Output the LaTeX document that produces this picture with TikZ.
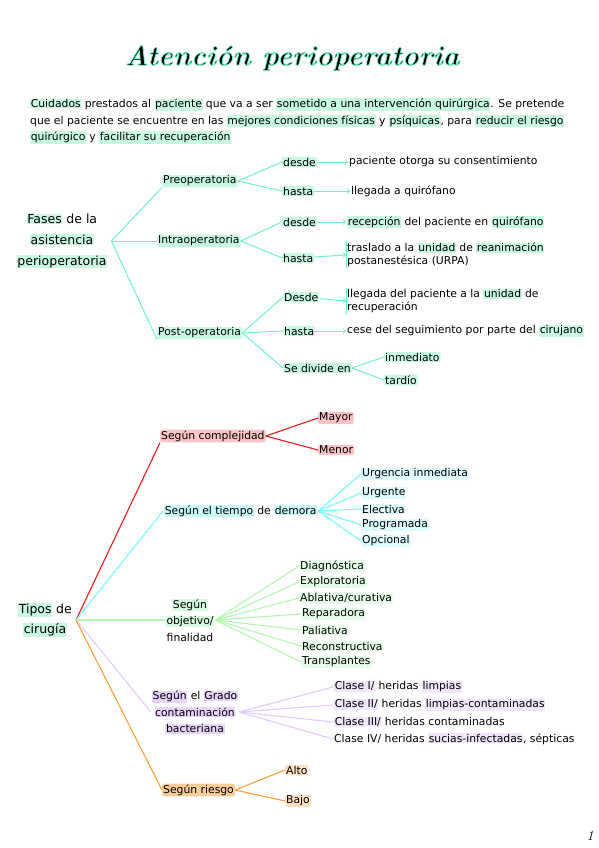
\documentclass[tikz,border=0pt]{standalone}
\usepackage{fontspec}
\setmainfont{DejaVu Sans}
\newfontfamily\titlefont{Latin Modern Roman}
\usetikzlibrary{positioning,arrows,calc}

\definecolor{mintline}{RGB}{110,242,196}
\definecolor{mintbg}{RGB}{200,248,226}
\definecolor{redline}{RGB}{222,28,28}
\definecolor{pinkbg}{RGB}{250,196,196}
\definecolor{cyanline}{RGB}{120,250,250}
\definecolor{cyanbg}{RGB}{200,250,250}
\definecolor{greenline}{RGB}{178,246,178}
\definecolor{greenbg}{RGB}{214,250,222}
\definecolor{lavline}{RGB}{226,202,250}
\definecolor{lavbg}{RGB}{232,212,250}
\definecolor{orangeline}{RGB}{245,162,60}
\definecolor{orangebg}{RGB}{250,204,152}
\newcommand{\mk}[2][mintbg]{{\setlength{\fboxsep}{0.6pt}\colorbox{#1}{#2}}}
\newcommand{\glowtext}[1]{\special{pdf:literal direct 2 Tr 0.7 w 0.431 0.949 0.769 RG}#1\special{pdf:literal direct 0 Tr 0.4 w 0 0 0 RG}}

\begin{document}
\begin{tikzpicture}[x=1pt, y=-1pt,
  txt/.style={font=\fontsize{10.8}{13}\selectfont, inner sep=1pt, anchor=west},
  root/.style={font=\fontsize{12.5}{21}\selectfont, align=center, inner sep=1pt},
  hl/.style={fill=#1, rounded corners=2pt},
  mline/.style={draw=mintline, line width=1pt},
  redl/.style={draw=redline, line width=1.1pt},
  cyanl/.style={draw=cyanline, line width=1.1pt},
  greenl/.style={draw=greenline, line width=1.1pt},
  lavl/.style={draw=lavline, line width=1.1pt},
  orangel/.style={draw=orangeline, line width=1.1pt}]
\useasboundingbox (0,0) rectangle (599,848);

% title
\node[font=\titlefont\bfseries\itshape\fontsize{28}{28}\selectfont] (title) at (292,58) {\glowtext{Atención perioperatoria}};

% introduction
\node[font=\fontsize{10.8}{16.5}\selectfont, align=left, anchor=west, inner sep=0pt] (intro) at (30,121)
  {\mk{Cuidados} prestados al \mk{paciente} que va a ser \mk{sometido a una intervención quirúrgica}. Se pretende\\
   que el paciente se encuentre en las \mk{mejores condiciones físicas} y \mk{psíquicas}, para \mk{reducir el riesgo}\\
   \mk{quirúrgico} y \mk{facilitar su recuperación}};

% fases de la asistencia
\node[root] (fases) at (62,241) {\mk{Fases} de la\\ \mk{asistencia}\\ \mk{perioperatoria}};
\coordinate[right=3pt of fases] (j1);
\node[txt, hl=mintbg] (pre) at (162,181) {Preoperatoria};
\node[txt, hl=mintbg] (intra) at (157,241) {Intraoperatoria};
\node[txt, hl=mintbg] (post) at (157,333) {Post-operatoria};
\path[mline]
(j1) edge (pre.south west)
     edge (intra.west)
     edge (post.south west);

% preoperatoria
\node[txt, hl=mintbg] (pdesde) at (282,162) {desde};
\node[txt, hl=mintbg] (phasta) at (282,191) {hasta};
\node[txt] (pconsent) at (348,162) {paciente otorga su consentimiento};
\node[txt] (pllegada) at (350,191) {llegada a quirófano};
\path[mline]
(pre.east) edge (pdesde.west)
           edge (phasta.west);
\path[mline, ->]
(pdesde) edge (pconsent)
(phasta) edge (pllegada);

% intraoperatoria
\node[txt, hl=mintbg] (idesde) at (282,222) {desde};
\node[txt, hl=mintbg] (ihasta) at (282,258) {hasta};
\node[txt] (irecep) at (346,222) {\mk{recepción} del paciente en \mk{quirófano}};
\node[txt, align=left] (itraslado) at (346,255) {traslado a la \mk{unidad} de \mk{reanimación}\\ postanestésica (URPA)};
\path[mline]
(intra.east) edge (idesde.west)
             edge (ihasta.west);
\draw[mline] (itraslado.north west) -- (itraslado.south west);
\path[mline, ->]
(idesde) edge (irecep)
(ihasta) edge (itraslado.west);

% post-operatoria
\node[txt, hl=mintbg] (odesde) at (283,297) {Desde};
\node[txt, hl=mintbg] (ohasta) at (283,331) {hasta};
\node[txt, hl=mintbg] (odivide) at (283,368) {Se divide en};
\node[txt, align=left] (ollegada) at (346,301) {llegada del paciente a la \mk{unidad} de\\ recuperación};
\node[txt] (ocese) at (346,331) {cese del seguimiento por parte del \mk{cirujano}};
\node[txt, hl=mintbg] (oinm) at (384,357) {inmediato};
\node[txt, hl=mintbg] (otar) at (384,380) {tardío};
\path[mline]
(post.east) edge (odesde.west)
            edge (ohasta.west)
            edge (odivide.west)
(odivide.east) edge (oinm.west)
               edge (otar.west);
\draw[mline] (ollegada.north west) -- (ollegada.south west);
\path[mline, ->]
(odesde) edge (ollegada.west)
(ohasta) edge (ocese);

% tipos de cirugia
\node[root, font=\fontsize{12.5}{20}\selectfont] (tipos) at (45,620) {\mk{Tipos} de\\ \mk{cirugía}};
\coordinate[right=3pt of tipos] (j2);

% complejidad
\node[txt, hl=pinkbg] (compl) at (160,436) {Según complejidad};
\node[txt, hl=pinkbg] (mayor) at (318,418) {Mayor};
\node[txt, hl=pinkbg] (menor) at (318,450) {Menor};
\path[redl]
(j2) edge (compl.south west)
(compl.east) edge (mayor.west)
             edge (menor.west);

% tiempo de demora
\node[txt] (tiempo) at (163,511) {\mk[cyanbg]{Según el tiempo} de \mk[cyanbg]{demora}};
\node[txt, hl=cyanbg!60] (urg1) at (361,474) {Urgencia inmediata};
\node[txt, hl=cyanbg!60] (urg2) at (361,493) {Urgente};
\node[txt, hl=cyanbg!60] (urg3) at (361,509) {Electiva};
\node[txt, hl=cyanbg!60] (urg4) at (361,525) {Programada};
\node[txt, hl=cyanbg!60] (urg5) at (361,541) {Opcional};
\path[cyanl]
(j2) edge (tiempo.west)
(tiempo.east) edge (urg1.west)
              edge (urg2.west)
              edge (urg3.west)
              edge (urg4.west)
              edge (urg5.west);

% objetivo / finalidad
\node[txt, anchor=center, align=center, font=\fontsize{10.8}{16.5}\selectfont] (obj) at (190,620) {\mk[greenbg]{Según}\\ \mk[greenbg]{objetivo/}\\ finalidad};
\node[txt, hl=greenbg!60] (fin1) at (299,566) {Diagnóstica};
\node[txt, hl=greenbg!60] (fin2) at (299,582) {Exploratoria};
\node[txt, hl=greenbg!60] (fin3) at (299,598) {Ablativa/curativa};
\node[txt, hl=greenbg!60] (fin4) at (301,614) {Reparadora};
\node[txt, hl=greenbg!60] (fin5) at (301,630) {Paliativa};
\node[txt, hl=greenbg!60] (fin6) at (301,646) {Reconstructiva};
\node[txt, hl=greenbg!60] (fin7) at (301,662) {Transplantes};
\path[greenl]
(j2) edge (obj.west)
(obj.east) edge (fin1.west)
           edge (fin2.west)
           edge (fin3.west)
           edge (fin4.west)
           edge (fin5.west)
           edge (fin6.west)
           edge (fin7.west);

% grado de contaminacion
\node[txt, anchor=center, align=center, font=\fontsize{10.8}{16.5}\selectfont] (grado) at (195,712) {\mk[lavbg]{Según} el \mk[lavbg]{Grado}\\ \mk[lavbg]{contaminación}\\ \mk[lavbg]{bacteriana}};
\node[txt] (clase1) at (333,687) {\mk[lavbg!60]{Clase I/} heridas \mk[lavbg!60]{limpias}};
\node[txt] (clase2) at (333,705) {\mk[lavbg!60]{Clase II/} heridas \mk[lavbg!60]{limpias-contaminadas}};
\node[txt] (clase3) at (333,722) {\mk[lavbg!60]{Clase III/} heridas contaminadas};
\node[txt] (clase4) at (333,739) {Clase IV/ heridas \mk[lavbg!60]{sucias-infectadas}, sépticas};
\path[lavl]
(j2) edge (grado.west)
(grado.east) edge (clase1.west)
             edge (clase2.west)
             edge (clase3.west)
             edge (clase4.west);

% riesgo
\node[txt, hl=orangebg] (riesgo) at (162,790) {Según riesgo};
\node[txt, hl=orangebg!60] (alto) at (285,770) {Alto};
\node[txt, hl=orangebg!60] (bajo) at (285,801) {Bajo};
\path[orangel]
(j2) edge (riesgo.west)
(riesgo.east) edge (alto.west)
              edge (bajo.west);

% page number
\node[font=\titlefont\itshape\fontsize{14}{14}\selectfont] (pagenum) at (590,836) {1};
\end{tikzpicture}
\end{document}
